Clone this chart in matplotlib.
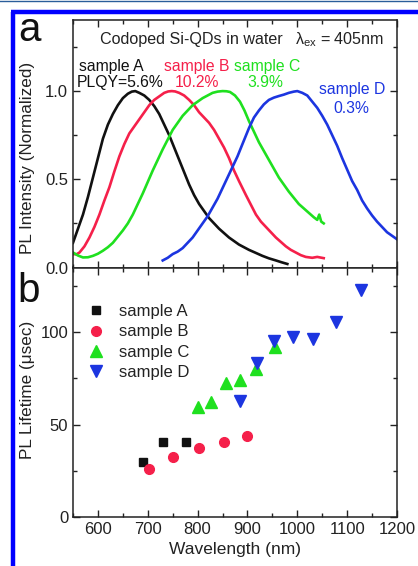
import numpy as np
import matplotlib
matplotlib.use("Agg")
import matplotlib.pyplot as plt
from matplotlib.ticker import MultipleLocator
from matplotlib.lines import Line2D

plt.rcParams['font.family'] = ['Liberation Sans', 'DejaVu Sans']
plt.rcParams['mathtext.fontset'] = 'custom'
plt.rcParams['mathtext.rm'] = 'Liberation Sans'

# --- panel a: normalized PL spectra ---
wl_a = [550, 560, 570, 580, 590, 600, 610, 620, 630, 640, 650, 660, 668, 675,
        683, 693, 703, 713, 723, 733, 743, 753, 763, 773, 783, 793, 803, 813,
        823, 833, 843, 853, 863, 873, 883, 893, 903, 915, 930, 943, 957, 968, 980]
pl_a = [0.14, 0.22, 0.30, 0.40, 0.51, 0.62, 0.73, 0.81, 0.87, 0.92, 0.96, 0.985,
        0.997, 1.00, 0.99, 0.975, 0.95, 0.915, 0.87, 0.81, 0.75, 0.68, 0.61, 0.54,
        0.47, 0.41, 0.36, 0.32, 0.28, 0.25, 0.22, 0.195, 0.17, 0.15, 0.13, 0.115,
        0.10, 0.085, 0.066, 0.052, 0.04, 0.03, 0.02]

wl_b = [550, 557, 563, 573, 583, 593, 603, 613, 623, 633, 643, 653, 663, 673,
        683, 693, 703, 713, 723, 733, 741, 748, 755, 763, 773, 783, 793, 803,
        813, 823, 833, 843, 853, 863, 873, 883, 897, 907, 917, 927, 937, 947,
        957, 967, 977, 987, 997, 1007, 1017, 1030, 1040, 1053]
pl_b = [0.076, 0.075, 0.085, 0.12, 0.17, 0.23, 0.30, 0.38, 0.455, 0.545, 0.63,
        0.70, 0.76, 0.80, 0.84, 0.88, 0.92, 0.95, 0.97, 0.99, 0.998, 1.00, 0.998,
        0.99, 0.975, 0.95, 0.92, 0.88, 0.85, 0.82, 0.78, 0.73, 0.68, 0.62, 0.55,
        0.49, 0.41, 0.355, 0.30, 0.26, 0.23, 0.20, 0.17, 0.145, 0.12, 0.10,
        0.085, 0.07, 0.06, 0.055, 0.06, 0.053]

wl_c = [550, 560, 570, 580, 590, 600, 610, 620, 630, 640, 650, 660, 670, 680,
        690, 700, 710, 720, 730, 740, 750, 760, 770, 780, 790, 800, 810, 820,
        830, 840, 850, 858, 865, 875, 885, 894, 903, 913, 923, 933, 943, 953,
        963, 973, 983, 993, 1003, 1013, 1023, 1033, 1040, 1044, 1048, 1053]
pl_c = [0.085, 0.068, 0.057, 0.058, 0.066, 0.078, 0.095, 0.115, 0.14, 0.175,
        0.21, 0.25, 0.30, 0.36, 0.42, 0.485, 0.55, 0.61, 0.67, 0.725, 0.78, 0.82,
        0.86, 0.89, 0.92, 0.94, 0.96, 0.975, 0.99, 0.997, 1.00, 0.999, 0.995,
        0.975, 0.94, 0.89, 0.83, 0.77, 0.71, 0.66, 0.61, 0.56, 0.51, 0.47, 0.43,
        0.395, 0.36, 0.335, 0.31, 0.285, 0.27, 0.30, 0.26, 0.25]

wl_d = [730, 740, 750, 760, 770, 780, 790, 800, 810, 820, 830, 840, 850, 860,
        870, 880, 890, 903, 913, 923, 933, 943, 953, 963, 973, 983, 993, 1000,
        1010, 1020, 1030, 1040, 1050, 1060, 1070, 1080, 1090, 1100, 1110, 1120,
        1130, 1140, 1150, 1160, 1170, 1180, 1190, 1200]
pl_d = [0.04, 0.055, 0.076, 0.09, 0.11, 0.14, 0.17, 0.21, 0.25, 0.29, 0.34,
        0.39, 0.45, 0.51, 0.57, 0.63, 0.70, 0.79, 0.85, 0.89, 0.925, 0.95, 0.963,
        0.972, 0.98, 0.99, 0.997, 1.00, 0.99, 0.975, 0.94, 0.905, 0.86, 0.81,
        0.75, 0.69, 0.62, 0.555, 0.49, 0.44, 0.38, 0.335, 0.295, 0.26, 0.23,
        0.20, 0.18, 0.16]

# --- panel b: PL lifetime vs wavelength ---
wl_life_a = [690, 730, 776]
life_a = [30, 40.5, 40.5]
wl_life_b = [702, 750, 802, 852, 900]
life_b = [26, 32.4, 37.3, 40.5, 43.8]
wl_life_c = [800, 827, 856, 886, 918, 955]
life_c = [59.5, 62, 72.5, 74, 80, 92]
wl_life_d = [886, 920, 954, 992, 1032, 1078, 1128]
life_d = [62.5, 83.5, 95, 97.5, 96.5, 105.5, 123]

c_black = '#111111'
c_red = '#f5204a'
c_green = '#1fe01f'
c_blue = '#1c35e0'

W, H = 418, 566
fig = plt.figure(figsize=(W / 100, H / 100), dpi=100)


def px(x, y):
    return x / W, 1 - y / H


l, r = 73 / W, 397 / W
t1, mid, b2 = 1 - 20 / H, 1 - 267.5 / H, 1 - 517 / H
ax1 = fig.add_axes([l, mid, r - l, t1 - mid])
ax2 = fig.add_axes([l, b2, r - l, mid - b2])

for ax in (ax1, ax2):
    ax.set_xlim(550, 1200)
    ax.xaxis.set_major_locator(MultipleLocator(100))
    ax.xaxis.set_minor_locator(MultipleLocator(50))
    ax.tick_params(which='both', direction='in', top=True, right=True,
                   width=1.0, labelsize=12, colors='#222222')
    ax.tick_params(which='major', length=5)
    ax.tick_params(which='minor', length=3)
    for s in ax.spines.values():
        s.set_linewidth(1.1)
        s.set_color('#222222')

lw = 1.9
ax1.plot(wl_a, pl_a, color=c_black, lw=lw)
ax1.plot(wl_b, pl_b, color=c_red, lw=lw)
ax1.plot(wl_c, pl_c, color=c_green, lw=lw)
ax1.plot(wl_d, pl_d, color=c_blue, lw=lw)
ax1.set_ylim(0, 1.403)
ax1.yaxis.set_major_locator(MultipleLocator(0.5))
ax1.yaxis.set_minor_locator(MultipleLocator(0.25))
ax1.yaxis.set_major_formatter(plt.FuncFormatter(lambda v, p: f"{v:.1f}"))
ax1.tick_params(labelbottom=False)

fs = 11.3
ax1.text(604, 1.29, "Codoped Si-QDs in water", fontsize=11.6, va='center', color='#222222')
ax1.text(996, 1.29, "\u03bb$_{\\rm ex}$ = 405nm", fontsize=11.6, va='center', color='#222222')
ax1.text(563, 1.142, "sample A", fontsize=fs, va='center', color=c_black)
ax1.text(557, 1.05, "PLQY=5.6%", fontsize=fs, va='center', color=c_black)
ax1.text(798, 1.142, "sample B", fontsize=fs, va='center', ha='center', color=c_red)
ax1.text(798, 1.05, "10.2%", fontsize=fs, va='center', ha='center', color=c_red)
ax1.text(940, 1.142, "sample C", fontsize=fs, va='center', ha='center', color=c_green)
ax1.text(936, 1.05, "3.9%", fontsize=fs, va='center', ha='center', color=c_green)
ax1.text(1110, 1.011, "sample D", fontsize=fs, va='center', ha='center', color=c_blue)
ax1.text(1108, 0.90, "0.3%", fontsize=fs, va='center', ha='center', color=c_blue)

ax2.plot(wl_life_a, life_a, 's', color=c_black, ms=6.2, ls='none', label='sample A')
ax2.plot(wl_life_b, life_b, 'o', color=c_red, ms=7, ls='none', label='sample B')
ax2.plot(wl_life_c, life_c, '^', color=c_green, ms=8, ls='none', label='sample C')
ax2.plot(wl_life_d, life_d, 'v', color=c_blue, ms=8, ls='none', label='sample D')
ax2.set_ylim(0, 135)
ax2.yaxis.set_major_locator(MultipleLocator(50))
ax2.yaxis.set_minor_locator(MultipleLocator(25))
ax2.set_xlabel("Wavelength (nm)", fontsize=12.5, color='#222222', labelpad=4)

ax2.legend(loc='upper left', bbox_to_anchor=px(86, 304), bbox_transform=fig.transFigure,
           frameon=False, fontsize=12, borderpad=0, borderaxespad=0,
           handlelength=1.2, handletextpad=0.8, labelspacing=0.32, numpoints=1,
           labelcolor='#222222')

fig.text(*px(28, 158), "PL Intensity (Normalized)", rotation=90, fontsize=12.3,
         ha='center', va='center', color='#222222')
fig.text(*px(28, 390), "PL Lifetime (\u03bcsec)", rotation=90, fontsize=12.3,
         ha='center', va='center', color='#222222')
fig.text(*px(29, 30), "a", fontsize=29, ha='center', va='center', color='#111111')
fig.text(*px(29, 291), "b", fontsize=29, ha='center', va='center', color='#111111')

# blue frame around the figure
fig.add_artist(Line2D([13 / W, 13 / W], [0, 1 - 12 / H], transform=fig.transFigure,
                      color='#0000ff', lw=3.2, solid_capstyle='butt'))
fig.add_artist(Line2D([11 / W, 1], [1 - 12 / H, 1 - 12 / H], transform=fig.transFigure,
                      color='#0000ff', lw=3.2, solid_capstyle='butt'))
fig.add_artist(Line2D([0, 1], [1 - 0.6 / H, 1 - 0.6 / H], transform=fig.transFigure,
                      color='#2a5d9a', lw=1.0))

fig.savefig("out.png", dpi=100)
